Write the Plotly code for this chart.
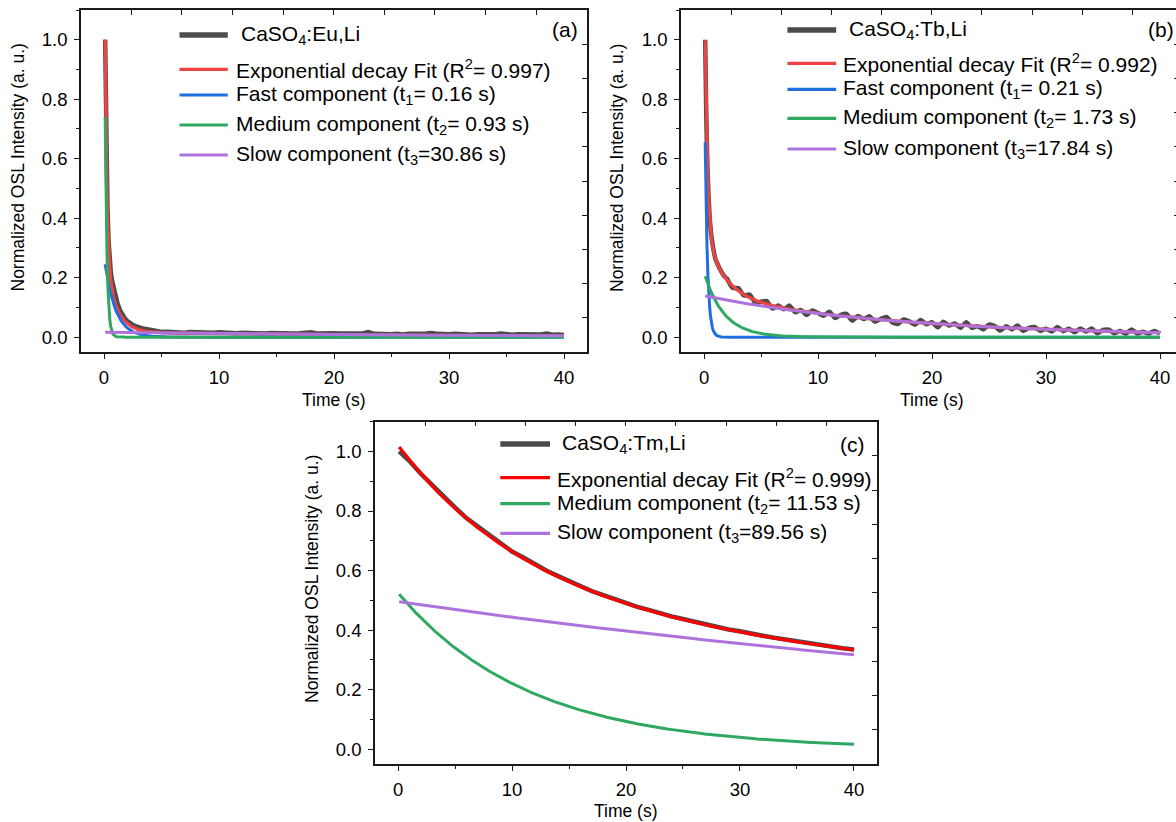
import numpy as np
import plotly.graph_objects as go

W, H = 1176, 822
FONT = "Liberation Sans, Arial, sans-serif"

# ---------------- measured OSL decay curves ----------------
time_eu = [0.1, 0.15, 0.2, 0.3, 0.4, 0.5, 0.6, 0.7, 0.8, 1.0, 1.2, 1.4, 1.6, 1.8,
           2.0, 2.25, 2.5, 2.75, 3.0, 3.5, 4.0, 4.5] + [5.0 + 0.5 * k for k in range(71)]
osl_eu = [1.0, 0.82, 0.64, 0.44, 0.32, 0.255, 0.215, 0.19, 0.17, 0.135, 0.11, 0.09, 0.075, 0.064,
          0.055, 0.047, 0.041, 0.037, 0.033, 0.028, 0.025, 0.020,
          0.017, 0.018, 0.016, 0.017, 0.015, 0.017, 0.016, 0.014, 0.016, 0.015,
          0.016, 0.014, 0.015, 0.013, 0.015, 0.014, 0.013, 0.015, 0.012, 0.014,
          0.013, 0.012, 0.014, 0.012, 0.013, 0.015, 0.016, 0.012, 0.013, 0.011,
          0.013, 0.012, 0.011, 0.013, 0.012, 0.013, 0.017, 0.011, 0.010, 0.012,
          0.010, 0.011, 0.009, 0.011, 0.010, 0.011, 0.012, 0.014, 0.011, 0.009,
          0.010, 0.011, 0.009, 0.010, 0.008, 0.010, 0.009, 0.011, 0.010, 0.012,
          0.009, 0.008, 0.010, 0.009, 0.008, 0.010, 0.009, 0.012, 0.008, 0.009,
          0.007]

time_tb = [0.1, 0.2, 0.3, 0.4, 0.5, 0.6, 0.7, 0.8, 0.9, 1.0, 1.2, 1.4, 1.6, 1.8] + \
          [2.0 + 0.5 * k for k in range(77)]
osl_tb = [1.0, 0.74, 0.57, 0.47, 0.40, 0.355, 0.325, 0.30, 0.28, 0.262, 0.245, 0.228, 0.215, 0.204,
          0.197, 0.166, 0.165, 0.140, 0.143, 0.116, 0.119, 0.121, 0.096, 0.106,
          0.094, 0.106, 0.084, 0.091, 0.074, 0.090, 0.081, 0.072, 0.085, 0.064,
          0.075, 0.078, 0.055, 0.071, 0.061, 0.070, 0.052, 0.061, 0.068, 0.050,
          0.044, 0.059, 0.053, 0.042, 0.058, 0.043, 0.050, 0.033, 0.052, 0.039,
          0.046, 0.031, 0.050, 0.031, 0.037, 0.026, 0.042, 0.037, 0.022, 0.037,
          0.026, 0.039, 0.021, 0.031, 0.034, 0.021, 0.028, 0.019, 0.034, 0.020,
          0.028, 0.016, 0.029, 0.019, 0.029, 0.013, 0.024, 0.025, 0.013, 0.021,
          0.012, 0.026, 0.012, 0.018, 0.012, 0.021, 0.012]

time_tm = [0.1] + list(range(1, 41))
osl_tm = [1.000, 0.968, 0.925, 0.887, 0.845, 0.812, 0.776, 0.748, 0.716, 0.691, 0.664,
          0.644, 0.621, 0.600, 0.582, 0.563, 0.548, 0.531, 0.518, 0.502, 0.491,
          0.478, 0.468, 0.456, 0.446, 0.437, 0.428, 0.418, 0.411, 0.402, 0.396,
          0.387, 0.381, 0.374, 0.368, 0.361, 0.356, 0.350, 0.345, 0.339, 0.335]

# ---------------- fitted exponential components (amplitude, time constant) ----------------
fit_start = 0.1
amp_eu = [0.245, 0.74, 0.016]
tau_eu = [0.93, 0.16, 30.86]
amp_tb = [0.655, 0.205, 0.138]
tau_tb = [0.21, 1.73, 17.84]
amp_tm = [0.52, 0.495]
tau_tm = [11.53, 89.56]

labels_eu = ["CaSO<sub>4</sub>:Eu,Li", "Exponential decay Fit (R<sup>2</sup>= 0.997)",
             "Fast component (t<sub>1</sub>= 0.16 s)", "Medium component (t<sub>2</sub>= 0.93 s)",
             "Slow component (t<sub>3</sub>=30.86 s)"]
labels_tb = ["CaSO<sub>4</sub>:Tb,Li", "Exponential decay Fit (R<sup>2</sup>= 0.992)",
             "Fast component (t<sub>1</sub>= 0.21 s)", "Medium component (t<sub>2</sub>= 1.73 s)",
             "Slow component (t<sub>3</sub>=17.84 s)"]
labels_tm = ["CaSO<sub>4</sub>:Tm,Li", "Exponential decay Fit (R<sup>2</sup>= 0.999)",
             "Medium component (t<sub>2</sub>= 11.53 s)", "Slow component (t<sub>3</sub>=89.56 s)"]
panel_tags = ["(a)", "(b)", "(c)"]

GRAY = "#4b4b4b"
RED = "#ef4343"
RED_C = "#ff0000"
BLUE = "#1f6fe0"
GREEN = "#2fa862"
PURPLE = "#ad73dc"
AXC = "#1a1a1a"

t_fit = np.linspace(fit_start, 40, 500)


def component(a, tau):
    return a * np.exp(-(t_fit - fit_start) / tau)


def px(x):
    return x / W


def py(y):
    return 1 - y / H


fig = go.Figure()

panels = [
    dict(x="x", y="y", t=time_eu, v=osl_eu, amp=amp_eu, tau=tau_eu, red=RED,
         comp_colors=[BLUE, GREEN, PURPLE], labels=labels_eu, spline=False),
    dict(x="x2", y="y2", t=time_tb, v=osl_tb, amp=amp_tb, tau=tau_tb, red=RED,
         comp_colors=[BLUE, GREEN, PURPLE], labels=labels_tb, spline=True),
    dict(x="x3", y="y3", t=time_tm, v=osl_tm, amp=amp_tm, tau=tau_tm, red=RED_C,
         comp_colors=[GREEN, PURPLE], labels=labels_tm, spline=False),
]

for p in panels:
    fig.add_trace(go.Scatter(
        x=p["t"], y=p["v"], xaxis=p["x"], yaxis=p["y"], mode="lines",
        line=dict(color=GRAY, width=4.5, shape="spline" if p["spline"] else "linear",
                  smoothing=0.5), showlegend=False, hoverinfo="skip"))
    comps = [component(a, tau) for a, tau in zip(p["amp"], p["tau"])]
    total = np.sum(comps, axis=0)
    fig.add_trace(go.Scatter(
        x=t_fit, y=total, xaxis=p["x"], yaxis=p["y"], mode="lines",
        line=dict(color=p["red"], width=3.2), showlegend=False, hoverinfo="skip"))
    for c, col in zip(comps, p["comp_colors"]):
        fig.add_trace(go.Scatter(
            x=t_fit, y=c, xaxis=p["x"], yaxis=p["y"], mode="lines",
            line=dict(color=col, width=3), showlegend=False, hoverinfo="skip"))

# empty traces so the top/right frame axes get rendered
for i in range(3):
    fig.add_trace(go.Scatter(x=[None], y=[None], xaxis="x" + str(i + 4), yaxis="y" + str(i + 4),
                             mode="lines", showlegend=False, hoverinfo="skip"))

# ---------------- axes ----------------
tickfont = dict(family=FONT, size=18.5, color="black")
yrange = [-0.05, 1.1]
geo = [
    dict(dom_x=[px(81), px(587)], dom_y=[py(352), py(10)], xr=[-2.0, 42.0]),
    dict(dom_x=[px(681), 1.0], dom_y=[py(352), py(10)], xr=[-2.02, 41.4]),
    dict(dom_x=[px(375), px(877)], dom_y=[py(764), py(421.7)], xr=[-2.02, 42.02]),
]
layout_axes = {}
for i, g in enumerate(geo):
    n = "" if i == 0 else str(i + 1)
    yid = "y" + n
    xid = "x" + n
    layout_axes["xaxis" + n] = dict(
        domain=g["dom_x"], anchor=yid, range=g["xr"], tick0=0, dtick=10,
        ticks="outside", ticklen=5, tickwidth=1.3, tickcolor=AXC,
        minor=dict(dtick=5, ticks="outside", ticklen=3, tickwidth=1.3, tickcolor=AXC),
        showline=True, linecolor=AXC, linewidth=1.5, showgrid=False, zeroline=False,
        tickfont=tickfont, ticklabelstandoff=3)
    layout_axes["yaxis" + n] = dict(
        domain=g["dom_y"], anchor=xid, range=yrange, tick0=0, dtick=0.2, tickformat=".1f",
        ticks="outside", ticklen=5, tickwidth=1.3, tickcolor=AXC,
        minor=dict(dtick=0.1, ticks="outside", ticklen=3, tickwidth=1.3, tickcolor=AXC),
        showline=True, linecolor=AXC, linewidth=1.5, showgrid=False, zeroline=False,
        tickfont=tickfont, ticklabelstandoff=3)
    # frame on top / right with inward ticks
    layout_axes["xaxis" + str(i + 4)] = dict(
        overlaying=xid, side="top", anchor=yid, range=g["xr"], tick0=-2.02, dtick=4.4,
        ticks="inside", ticklen=5, tickwidth=1.3, tickcolor=AXC, showticklabels=False,
        showline=True, linecolor=AXC, linewidth=1.5, showgrid=False, zeroline=False)
    layout_axes["yaxis" + str(i + 4)] = dict(
        overlaying=yid, side="right", anchor=xid, range=yrange, tick0=-0.05, dtick=0.115,
        ticks="inside", ticklen=5 if i != 1 else 2, tickwidth=1.3, tickcolor=AXC,
        showticklabels=False, showline=(i != 1), linecolor=AXC, linewidth=1.5,
        showgrid=False, zeroline=False)

fig.update_layout(**layout_axes)

# ---------------- axis titles ----------------
annotations = []
shapes = []
ytitle = "Normalized OSL Intensity (a. u.)"
for (x, y) in [(17.5, 168), (617, 168), (312, 579)]:
    annotations.append(dict(x=px(x), y=py(y), xref="paper", yref="paper", text=ytitle,
                            textangle=-90, showarrow=False, xanchor="center", yanchor="middle",
                            font=dict(family=FONT, size=17.5, color="black")))
for (x, y) in [(334, 400), (932, 400), (626, 811)]:
    annotations.append(dict(x=px(x), y=py(y), xref="paper", yref="paper", text="Time (s)",
                            showarrow=False, xanchor="center", yanchor="middle",
                            font=dict(family=FONT, size=17.5, color="black")))

# ---------------- legends ----------------
legend_specs = [
    dict(line_x=(179.5, 227.8), text_x=233.6, first_x=239.4, ys=[35, 69.3, 95, 125, 155],
         colors=[GRAY, RED, BLUE, GREEN, PURPLE], labels=labels_eu),
    dict(line_x=(787.4, 836.2), text_x=841.1, first_x=846.8, ys=[30, 63.3, 89.3, 118.3, 149],
         colors=[GRAY, RED, BLUE, GREEN, PURPLE], labels=labels_tb),
    dict(line_x=(500.3, 550.0), text_x=554.6, first_x=559.6, ys=[444, 477.7, 503.7, 533.3],
         colors=[GRAY, RED_C, GREEN, PURPLE], labels=labels_tm),
]
for spec in legend_specs:
    for j, (yy, col, lab) in enumerate(zip(spec["ys"], spec["colors"], spec["labels"])):
        shapes.append(dict(type="line", xref="paper", yref="paper",
                           x0=px(spec["line_x"][0]), x1=px(spec["line_x"][1]),
                           y0=py(yy), y1=py(yy),
                           line=dict(color=col, width=5.5 if j == 0 else 3.2)))
        annotations.append(dict(x=px(spec["first_x"] if j == 0 else spec["text_x"]),
                                y=py(yy), xref="paper", yref="paper", text=lab,
                                showarrow=False, xanchor="left", yanchor="middle",
                                font=dict(family=FONT, size=21, color="black")))

for tag, (x, y) in zip(panel_tags, [(565, 30), (1161, 30), (853, 444)]):
    annotations.append(dict(x=px(x), y=py(y), xref="paper", yref="paper", text=tag,
                            showarrow=False, xanchor="center", yanchor="middle",
                            font=dict(family=FONT, size=21, color="black")))

fig.update_layout(
    width=W, height=H, margin=dict(l=0, r=0, t=0, b=0),
    paper_bgcolor="white", plot_bgcolor="white",
    showlegend=False, annotations=annotations, shapes=shapes,
)

fig.write_html("out.html")
